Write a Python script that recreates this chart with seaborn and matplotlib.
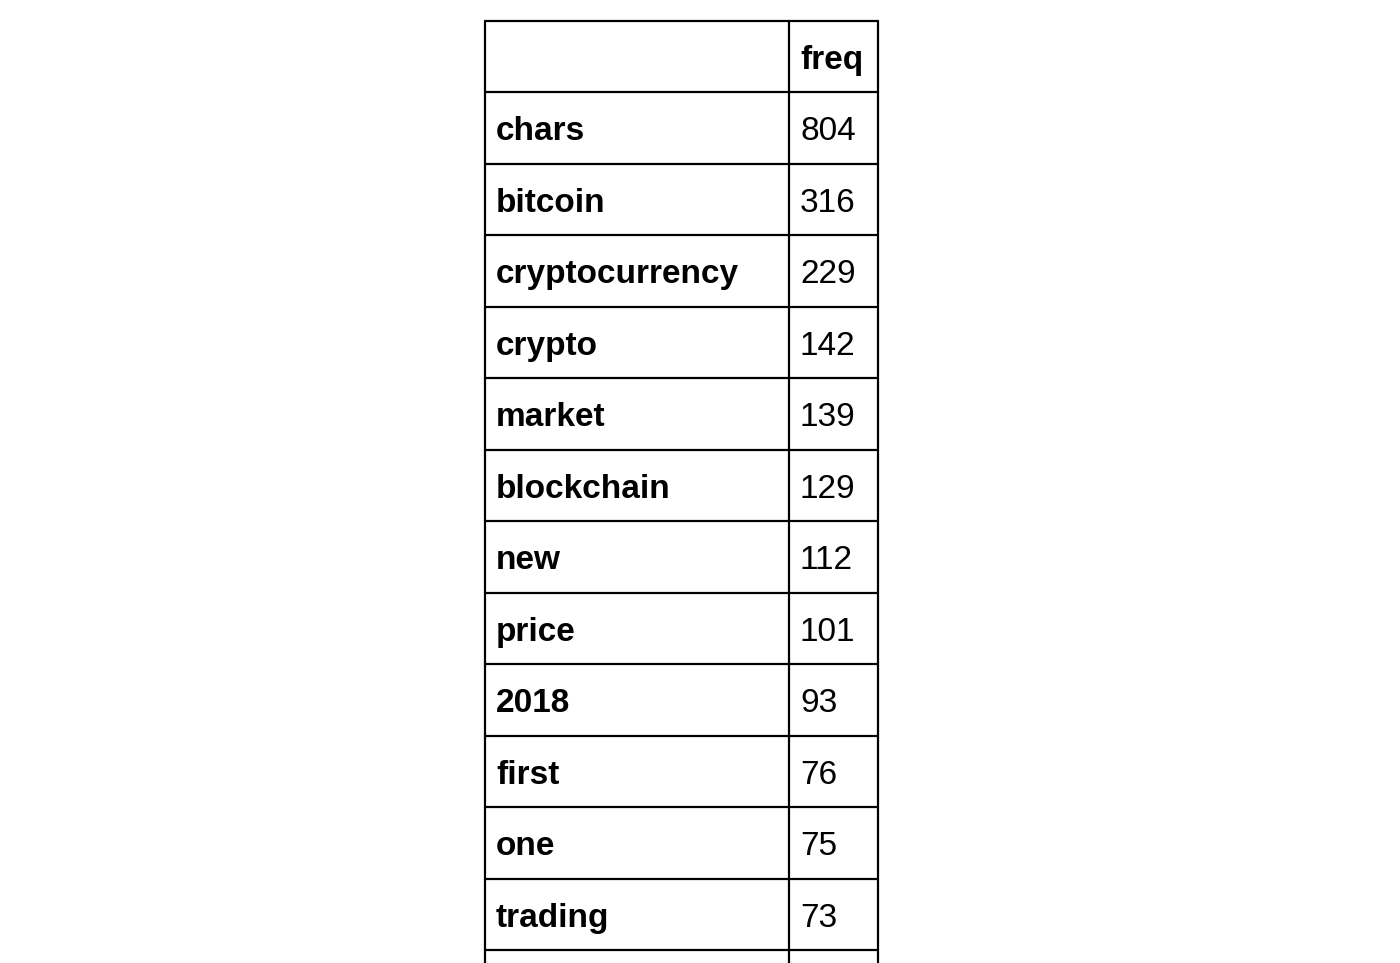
import matplotlib
matplotlib.use('Agg')
import matplotlib.pyplot as plt
import seaborn as sns

sns.set_style('white')
plt.rcParams['font.family'] = ['Liberation Sans', 'DejaVu Sans']

words = ['chars', 'bitcoin', 'cryptocurrency', 'crypto', 'market', 'blockchain',
         'new', 'price', '2018', 'first', 'one', 'trading']
freq = [804, 316, 229, 142, 139, 129, 112, 101, 93, 76, 75, 73]
header = 'freq'

W, H = 1400, 963
fig = plt.figure(figsize=(W / 100, H / 100), dpi=100)
left, right, top = 485, 878, 21
row_px = 71.5
ax = fig.add_axes([left / W, 0, (right - left) / W, (H - top) / H])
n_vis = (H - top) / row_px
split = (789 - left) / (right - left)
ax.set_xlim(0, 1)
ax.set_ylim(n_vis, 0)
ax.axis('off')

n_rows = len(words) + 1
for i in range(n_rows + 1):
    ax.plot([0, 1], [i, i], color='black', lw=1.6, clip_on=False)
for xv in [0, split, 1]:
    ax.plot([xv, xv], [0, n_vis], color='black', lw=1.6, clip_on=False)

pad = 11 / (right - left)
fs = 24
dy = 0.55
ax.text(split + pad, dy, header, ha='left', va='center', fontsize=fs,
        fontweight='bold', color='black')
for i, (w, f) in enumerate(zip(words, freq), start=1):
    ax.text(pad, i + dy, w, ha='left', va='center', fontsize=fs,
            fontweight='bold', color='black')
    ax.text(split + pad, i + dy, str(f), ha='left', va='center', fontsize=fs,
            color='black')

fig.savefig('out.png', dpi=100, facecolor='white')
